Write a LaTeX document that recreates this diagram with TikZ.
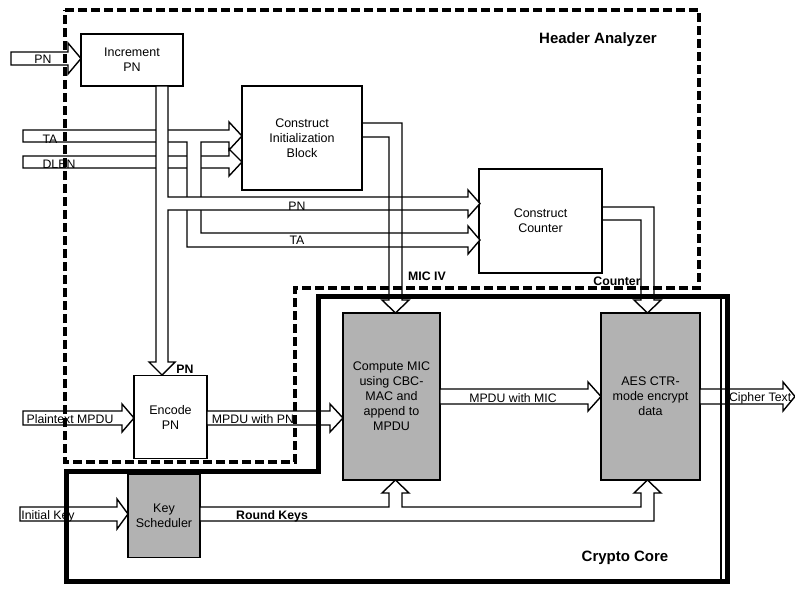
\documentclass[tikz,border=0pt]{standalone}
\usepackage{fontspec}
\setmainfont{Liberation Sans}
\begin{document}
\begin{tikzpicture}[x=1pt,y=-1pt,
  every node/.style={inner sep=0pt,outer sep=0pt},
  blk/.style 2 args={draw,line width=1.4pt,fill=white,align=center,
    minimum width=#1,minimum height=#2,font=\fontsize{12.5}{15}\selectfont},
  gblk/.style 2 args={blk={#1}{#2},fill=black!30},
  harrow/.style={draw,line width=1.4pt,fill=white,line join=miter,miter limit=10},
  hline/.style={draw,line width=1.4pt,line join=miter,miter limit=10},
  lbl/.style={font=\fontsize{12.3}{14}\selectfont},
  blbl/.style={font=\bfseries\fontsize{12.3}{14}\selectfont},
  ttl/.style={font=\bfseries\fontsize{15}{17}\selectfont},
  hdash/.style={line width=3.5pt,dash pattern=on 9pt off 4pt},
  core/.style={line width=5pt,line join=miter}]
\useasboundingbox (0,0) rectangle (795,590);

% ---- blocks
\node[blk={102pt}{52pt}] (inc) at (132,60) {Increment\\PN};
\node[blk={120pt}{104pt}] (cib) at (302,138) {Construct\\Initialization\\Block};
\node[blk={123pt}{104pt}] (cc) at (540.5,221) {Construct\\Counter};
\node[gblk={97pt}{167pt}] (mic) at (391.5,396.5) {Compute MIC\\using CBC-\\MAC and\\append to\\MPDU};
\node[gblk={99pt}{167pt}] (aes) at (650.5,396.5) {AES CTR-\\mode encrypt\\data};
\node[blk={73pt}{83pt}] (enc) at (170.5,417) {Encode\\PN};
\node[gblk={72pt}{83pt}] (ks) at (164,516) {Key\\Scheduler};

% ---- hollow arrows (drawn in stacking order)
\path[harrow] (11,52)--(68,52)--(68,43)--(81,58.5)--(68,74)--(68,65)--(11,65)--cycle;
\path[harrow] (23,156)--(229,156)--(229,149)--(242,162)--(229,176)--(229,168)--(23,168)--cycle;
\path[harrow] (23,130)--(229,130)--(229,122)--(242,136)--(229,150)--(229,142)--(201,142)
  --(201,233)--(468,233)--(468,226)--(480,240)--(468,254)--(468,247)--(187,247)--(187,142)
  --(23,142)--cycle;
\path[harrow] (156,86)--(156,362)--(149,362)--(162,375)--(175,362)--(168,362)--(168,210)
  --(468,210)--(468,217)--(480,203.5)--(468,190)--(468,197)--(168,197)--(168,86)--cycle;
\path[hline] (362,123)--(402,123)--(402,300)--(409,300)--(395.5,313)--(382,300)--(389,300)--(389,137)--(362,137);
\path[hline] (602,207)--(654,207)--(654,300)--(661,300)--(647.5,313)--(634,300)--(641,300)--(641,220)--(602,220);
\path[harrow] (23,411)--(122,411)--(122,404)--(134,418)--(122,432)--(122,425)--(23,425)--cycle;
\path[harrow] (207,411)--(330,411)--(330,404)--(343,418)--(330,432)--(330,425)--(207,425)--cycle;
\path[harrow] (440,389)--(588,389)--(588,382)--(601,396.5)--(588,411)--(588,404)--(440,404)--cycle;
\path[harrow] (700,389)--(783,389)--(783,382)--(795,396.5)--(783,411)--(783,404)--(700,404)--cycle;
\path[harrow] (20,507)--(117,507)--(117,499)--(128,514)--(117,529)--(117,521)--(20,521)--cycle;
\path[harrow] (200,507)--(389,507)--(389,493)--(382,493)--(395.5,480)--(409,493)--(402,493)--(402,507)
  --(641,507)--(641,493)--(634,493)--(647.5,480)--(661,493)--(654,493)--(654,521)--(200,521)--cycle;

% ---- region borders
\draw[hdash] (65,10)--(699,10)--(699,288)--(295,288)--(295,462)--(65,462)--cycle;
\draw[core] (318,296)--(727,296)--(727,581)--(66,581)--(66,471)--(318,471)--cycle;
\draw[line width=1.8pt] (721,296)--(721,581);

% ---- labels
\node[lbl] (lpn) at (43,59) {PN};
\node[lbl] (lta) at (50,139) {TA};
\node[lbl] (ldlen) at (59,164) {DLEN};
\node[lbl] (lpn2) at (297,206) {PN};
\node[lbl] (lta2) at (297,240) {TA};
\node[blbl] (lmiciv) at (427,276) {MIC IV};
\node[blbl] (lctr) at (617,281) {Counter};
\node[blbl] (lpn3) at (185,369) {PN};
\node[lbl] (lpt) at (70,419) {Plaintext MPDU};
\node[lbl] (lmpn) at (253,419) {MPDU with PN};
\node[lbl] (lmmic) at (513,398) {MPDU with MIC};
\node[lbl,anchor=west] (lct) at (729,398) {Cipher Text};
\node[lbl] (lik) at (48,516) {Initial Key};
\node[blbl] (lrk) at (272,516) {Round Keys};
\node[ttl] (tha) at (598,40) {Header Analyzer};
\node[ttl] (tcc) at (625,558) {Crypto Core};
\end{tikzpicture}
\end{document}
